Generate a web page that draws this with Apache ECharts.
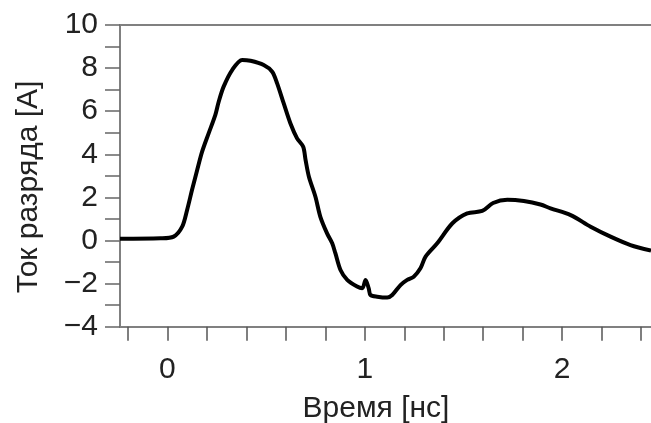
<!DOCTYPE html>
<html>
<head>
<meta charset="utf-8">
<script src="https://cdn.jsdelivr.net/npm/echarts@6/dist/echarts.min.js"></script>
<style>html,body{margin:0;padding:0;background:#fff;}#c{width:651px;height:423px;}</style>
</head>
<body>
<div id="c"></div>
<script>
const timeNs = [-0.24,-0.035,0.032,0.075,0.100,0.125,0.151,0.176,0.209,0.243,0.260,0.285,0.328,0.379,0.421,0.488,0.531,0.556,0.589,0.623,0.657,0.688,0.700,0.717,0.750,0.775,0.809,0.835,0.851,0.877,0.911,0.961,0.987,1.004,1.020,1.029,1.063,1.114,1.139,1.181,1.215,1.248,1.282,1.308,1.367,1.444,1.519,1.595,1.650,1.722,1.806,1.890,1.941,2.043,2.144,2.245,2.346,2.45];
const currentA = [0.08,0.10,0.18,0.64,1.42,2.35,3.27,4.12,4.97,5.83,6.44,7.14,7.91,8.38,8.34,8.14,7.83,7.29,6.37,5.44,4.74,4.35,3.74,2.96,2.03,1.10,0.33,-0.13,-0.59,-1.37,-1.83,-2.14,-2.22,-1.83,-2.22,-2.53,-2.61,-2.65,-2.53,-2.07,-1.83,-1.68,-1.29,-0.75,-0.13,0.80,1.26,1.37,1.74,1.89,1.83,1.67,1.49,1.18,0.64,0.18,-0.21,-0.47];
const xTickValues = [-0.2,0,0.2,0.4,0.6,0.8,1,1.2,1.4,1.6,1.8,2,2.2,2.4];
const xLabelValues = [0,1,2];
const yLabelValues = [-4,-2,0,2,4,6,8,10];
const xTitle = 'Время [нс]';
const yTitle = 'Ток разряда [А]';

const data = timeNs.map((t,i)=>[t,currentA[i]]);
const FONT = 'Liberation Sans, Arial, sans-serif';
const chart = echarts.init(document.getElementById('c'), null, {renderer:'canvas'});
chart.setOption({
  animation:false,
  backgroundColor:'#fff',
  grid:{left:120,right:0,top:25,bottom:96.3},
  xAxis:[{
    type:'value',min:-0.24,max:2.45,
    axisLine:{show:true,onZero:false,lineStyle:{color:'#808080',width:2}},
    axisTick:{show:true,customValues:xTickValues,length:14,lineStyle:{color:'#555',width:1.5}},
    axisLabel:{customValues:xLabelValues,margin:28,fontSize:30,fontFamily:FONT,color:'#222'},
    splitLine:{show:false}
  },{
    type:'value',position:'top',min:-0.24,max:2.45,
    axisLine:{show:true,onZero:false,lineStyle:{color:'#808080',width:2}},
    axisTick:{show:false},axisLabel:{show:false},splitLine:{show:false}
  }],
  yAxis:{
    type:'value',min:-4,max:10,interval:1,
    axisLine:{show:true,onZero:false,lineStyle:{color:'#808080',width:2}},
    axisTick:{show:true,length:15,lineStyle:{color:'#666',width:1.5}},
    axisLabel:{customValues:yLabelValues,margin:22,fontSize:30,fontFamily:FONT,color:'#222',
      formatter:v=>v<0?'\u2212'+(-v):String(v)},
    splitLine:{show:false}
  },
  graphic:[
    {type:'text',x:29,y:187,rotation:Math.PI/2,style:{text:yTitle,font:'30px '+FONT,fill:'#222',textAlign:'center',textVerticalAlign:'middle'}},
    {type:'text',x:376,y:409,style:{text:xTitle,font:'30px '+FONT,fill:'#222',textAlign:'center',textVerticalAlign:'middle'}}
  ],
  series:[{
    type:'line',data:data,showSymbol:false,smooth:0.3,
    lineStyle:{color:'#000',width:4},
    clip:true
  }]
});
</script>
</body>
</html>
